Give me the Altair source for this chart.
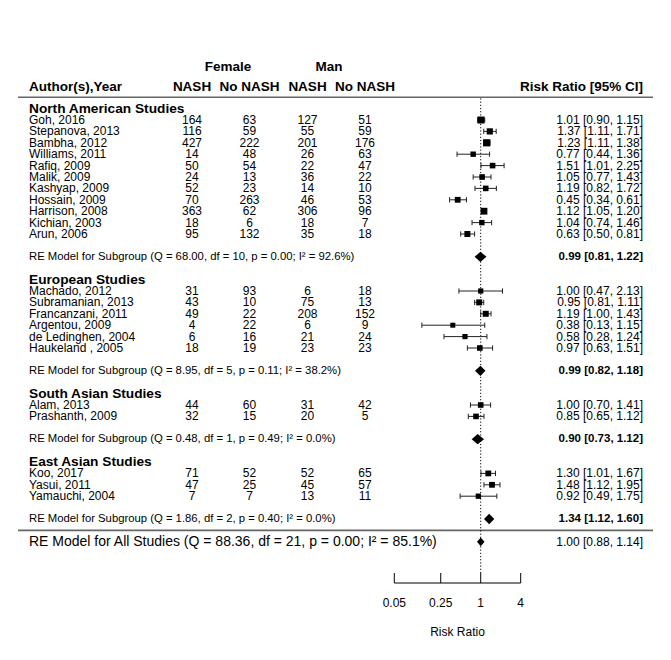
import altair as alt
import pandas as pd

# ---------------- data ----------------
group_names = ["North American Studies", "European Studies",
               "South Asian Studies", "East Asian Studies"]
group_sizes = [11, 6, 2, 3]

authors = ["Goh, 2016", "Stepanova, 2013", "Bambha, 2012", "Williams, 2011",
           "Rafiq, 2009", "Malik, 2009", "Kashyap, 2009", "Hossain, 2009",
           "Harrison, 2008", "Kichian, 2003", "Arun, 2006",
           "Machado, 2012", "Subramanian, 2013", "Francanzani, 2011",
           "Argentou, 2009", "de Ledinghen, 2004", "Haukeland , 2005",
           "Alam, 2013", "Prashanth, 2009",
           "Koo, 2017", "Yasui, 2011", "Yamauchi, 2004"]
female_nash = [164, 116, 427, 14, 50, 24, 52, 70, 363, 18, 95,
               31, 43, 49, 4, 6, 18, 44, 32, 71, 47, 7]
female_no = [63, 59, 222, 48, 54, 13, 23, 263, 62, 6, 132,
             93, 10, 22, 22, 16, 19, 60, 15, 52, 25, 7]
man_nash = [127, 55, 201, 26, 22, 36, 14, 46, 306, 18, 35,
            6, 75, 208, 6, 21, 23, 31, 20, 52, 45, 13]
man_no = [51, 59, 176, 63, 47, 22, 10, 53, 96, 7, 18,
          18, 13, 152, 9, 24, 23, 42, 5, 65, 57, 11]
rr = [1.01, 1.37, 1.23, 0.77, 1.51, 1.05, 1.19, 0.45, 1.12, 1.04, 0.63,
      1.00, 0.95, 1.19, 0.38, 0.58, 0.97, 1.00, 0.85, 1.30, 1.48, 0.92]
rr_lo = [0.90, 1.11, 1.11, 0.44, 1.01, 0.77, 0.82, 0.34, 1.05, 0.74, 0.50,
         0.47, 0.81, 1.00, 0.13, 0.28, 0.63, 0.70, 0.65, 1.01, 1.12, 0.49]
rr_hi = [1.15, 1.71, 1.38, 1.36, 2.25, 1.43, 1.72, 0.61, 1.20, 1.46, 0.81,
         2.13, 1.11, 1.43, 1.15, 1.24, 1.51, 1.41, 1.12, 1.67, 1.95, 1.75]
# marker width (weight)
weight = [7.0, 6.2, 7.2, 5.4, 5.6, 5.6, 5.6, 5.8, 6.8, 5.4, 6.0,
          5.2, 6.0, 6.0, 5.0, 5.2, 5.6, 5.6, 5.6, 5.8, 5.8, 5.3]

sub_rr = [0.99, 0.99, 0.90, 1.34]
sub_lo = [0.81, 0.82, 0.73, 1.12]
sub_hi = [1.22, 1.18, 1.12, 1.60]
sub_q = ["68.00", "8.95", "0.48", "1.86"]
sub_df = [10, 5, 1, 2]
sub_p = ["0.00", "0.11", "0.49", "0.40"]
sub_i2 = ["92.6", "38.2", "0.0", "0.0"]

all_rr, all_lo, all_hi = 1.00, 0.88, 1.14
all_q, all_df, all_p, all_i2 = "88.36", 21, "0.00", "85.1"

axis_ticks = [0.05, 0.25, 1, 4]
axis_labels = ["0.05", "0.25", "1", "4"]

# ---------------- layout rows ----------------
studies, headings, subs, diam = [], [], [], []
r = -1
k = 0
for g, n in enumerate(group_sizes):
    headings.append({"row": r, "text": group_names[g]})
    for j in range(n):
        studies.append({
            "row": r + 1 + j, "author": authors[k],
            "fn": str(female_nash[k]), "fno": str(female_no[k]),
            "mn": str(man_nash[k]), "mno": str(man_no[k]),
            "rr": rr[k], "lo": rr_lo[k], "hi": rr_hi[k],
            "sq": weight[k] ** 2,
            "ci": f"{rr[k]:.2f} [{rr_lo[k]:.2f}, {rr_hi[k]:.2f}]",
        })
        k += 1
    srow = r + n + 2
    subs.append({
        "row": srow,
        "text": f"RE Model for Subgroup (Q = {sub_q[g]}, df = {sub_df[g]}, "
                f"p = {sub_p[g]}; I\u00b2 = {sub_i2[g]}%)",
        "ci": f"{sub_rr[g]:.2f} [{sub_lo[g]:.2f}, {sub_hi[g]:.2f}]",
    })
    h = 0.45
    diam += [{"d": g, "x": sub_lo[g], "y1": srow, "y2": srow},
             {"d": g, "x": sub_rr[g], "y1": srow - h, "y2": srow + h},
             {"d": g, "x": sub_hi[g], "y1": srow, "y2": srow}]
    r = srow + 2
line_row = r - 2 + 1
all_row = line_row + 1
h = 0.38
diam += [{"d": 9, "x": all_lo, "y1": all_row, "y2": all_row},
         {"d": 9, "x": all_rr, "y1": all_row - h, "y2": all_row + h},
         {"d": 9, "x": all_hi, "y1": all_row, "y2": all_row}]

sdf = pd.DataFrame(studies)
hdf = pd.DataFrame(headings)
subdf = pd.DataFrame(subs)
ddf = pd.DataFrame(diam)
caps = pd.concat([sdf[["row", "lo"]].rename(columns={"lo": "x"}),
                  sdf[["row", "hi"]].rename(columns={"hi": "x"})])
caps["ya"] = caps["row"] - 0.23
caps["yb"] = caps["row"] + 0.23

FONT = "Liberation Sans"
YS = alt.Scale(domain=[0, 37], range=[112, 533.8], zero=False, nice=False)
XS = alt.Scale(type="log", domain=[0.05, 4], range=[386.3, 512.7], nice=False)


def Y(f):
    return alt.Y(f, type="quantitative", scale=YS, axis=None, stack=None)


def X(f):
    return alt.X(f, type="quantitative", scale=XS, axis=None)


def txt(df, field, x, size, align="left", bold=False, yfield="row"):
    return alt.Chart(df).mark_text(
        align=align, baseline="middle", font=FONT, fontSize=size,
        fontWeight="bold" if bold else "normal", color="black"
    ).encode(x=alt.value(x), y=Y(yfield), text=f"{field}:N")


layers = []

# header
hdr1 = pd.DataFrame({"row": [-4.68, -4.68], "t": ["Female", "Man"], "x": [220, 321]})
for _, rw in hdr1.iterrows():
    layers.append(txt(hdr1[hdr1.t == rw.t], "t", rw.x, 13.5, "center", True))
hdr2_cols = ["NASH", "No NASH", "NASH", "No NASH"]
col_x = [184, 241.5, 299.5, 357]
for cx, ct in zip(col_x, hdr2_cols):
    layers.append(txt(pd.DataFrame({"row": [-2.92], "t": [ct]}), "t", cx, 13.5, "center", True))
layers.append(txt(pd.DataFrame({"row": [-2.92], "t": ["Author(s),Year"]}), "t", 21, 13.5, "left", True))
layers.append(txt(pd.DataFrame({"row": [-2.92], "t": ["Risk Ratio [95% CI]"]}), "t", 635, 13.5, "right", True))

# horizontal separator lines
lines = pd.DataFrame({"row": [-1.99, line_row]})
layers.append(alt.Chart(lines).mark_rule(color="#666", strokeWidth=1.6).encode(
    x=alt.value(10), x2=alt.value(645), y=Y("row")))

# headings
layers.append(txt(hdf, "text", 21, 13.7, "left", True))

# study rows
layers.append(txt(sdf, "author", 21, 12))
for cx, f in zip(col_x, ["fn", "fno", "mn", "mno"]):
    layers.append(txt(sdf, f, cx, 12, "center"))
layers.append(txt(sdf, "ci", 635, 12, "right"))

# subgroup rows
layers.append(txt(subdf, "text", 21, 11.3))
layers.append(txt(subdf, "ci", 635, 11.5, "right", True))

# overall row
alldf = pd.DataFrame({
    "row": [all_row],
    "text": [f"RE Model for All Studies (Q = {all_q}, df = {all_df}, p = {all_p}; I\u00b2 = {all_i2}%)"],
    "ci": [f"{all_rr:.2f} [{all_lo:.2f}, {all_hi:.2f}]"]})
layers.append(txt(alldf, "text", 21, 14))
layers.append(txt(alldf, "ci", 635, 12, "right"))

# reference dotted line
ref = pd.DataFrame({"x": [1], "ya": [-1.9], "yb": [39.74]})
layers.append(alt.Chart(ref).mark_rule(color="black", strokeWidth=1, strokeDash=[1.2, 2]).encode(
    x=X("x"), y=Y("ya"), y2="yb"))

# CI whiskers
layers.append(alt.Chart(sdf).mark_rule(color="#222", strokeWidth=1).encode(
    x=X("lo"), x2="hi", y=Y("row")))
layers.append(alt.Chart(caps).mark_rule(color="#222", strokeWidth=1).encode(
    x=X("x"), y=Y("ya"), y2="yb"))
# squares
layers.append(alt.Chart(sdf).mark_square(color="black", opacity=1, filled=True).encode(
    x=X("rr"), y=Y("row"), size=alt.Size("sq:Q", scale=None, legend=None)))
# diamonds
layers.append(alt.Chart(ddf).mark_area(color="black", opacity=1, interpolate="linear").encode(
    x=X("x"), y=Y("y1"), y2="y2", detail="d:N"))

# axis
axdf = pd.DataFrame({"x": [axis_ticks[0]], "x2": [axis_ticks[-1]]})
layers.append(alt.Chart(axdf).mark_rule(color="black", strokeWidth=1).encode(
    x=X("x"), x2="x2", y=alt.value(575)))
tdf = pd.DataFrame({"x": axis_ticks, "lab": axis_labels})
layers.append(alt.Chart(tdf).mark_rule(color="black", strokeWidth=1).encode(
    x=X("x"), y=alt.value(565), y2=alt.value(575)))
layers.append(alt.Chart(tdf).mark_text(font=FONT, fontSize=12, baseline="middle", align="center",
                                        color="black").encode(
    x=X("x"), y=alt.value(595), text="lab:N"))
xl = pd.DataFrame({"x": [(axis_ticks[0] * axis_ticks[-1]) ** 0.5], "t": ["Risk Ratio"]})
layers.append(alt.Chart(xl).mark_text(font=FONT, fontSize=12, baseline="middle", align="center",
                                      color="black").encode(
    x=X("x"), y=alt.value(624), text="t:N"))

chart = alt.layer(*layers).properties(
    width=655, height=644, padding=0, autosize="none"
).configure_view(stroke=None)

chart.save("out.html", embed_options={"renderer": "svg", "actions": False})
